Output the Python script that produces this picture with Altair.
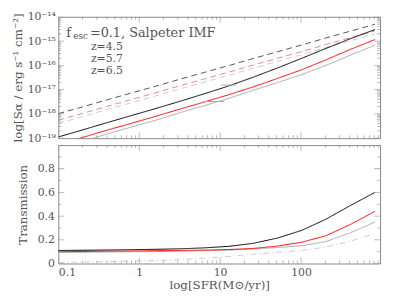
import altair as alt
import pandas as pd
import numpy as np

# ---------------- data ----------------
sfr = [0.1, 0.2, 0.4, 0.8, 1.6, 3.2, 6.4, 12.8, 25.6, 51.2, 102.4, 204.8, 409.6, 819.2]

# log10 of surface brightness (top panel)
dash_black = [-17.99, -17.71, -17.42, -17.14, -16.86, -16.57, -16.29, -16.01, -15.72, -15.44, -15.16, -14.87, -14.59, -14.31]
dash_red   = [-18.26, -17.98, -17.69, -17.41, -17.13, -16.84, -16.56, -16.28, -15.99, -15.71, -15.43, -15.14, -14.86, -14.58]
dash_gray  = [-18.39, -18.11, -17.82, -17.54, -17.26, -16.97, -16.69, -16.41, -16.12, -15.84, -15.56, -15.27, -14.99, -14.71]
solid_black = [-18.95, -18.66, -18.36, -18.07, -17.78, -17.48, -17.17, -16.85, -16.49, -16.11, -15.71, -15.30, -14.90, -14.53]
solid_red   = [-19.26, -18.97, -18.67, -18.39, -18.10, -17.80, -17.51, -17.21, -16.89, -16.54, -16.18, -15.77, -15.34, -14.94]
solid_gray  = [-19.42, -19.13, -18.83, -18.54, -18.26, -17.95, -17.66, -17.36, -17.03, -16.71, -16.38, -16.00, -15.58, -15.17]

# transmission (bottom panel)
t_black = [0.110, 0.112, 0.114, 0.117, 0.120, 0.124, 0.132, 0.145, 0.170, 0.215, 0.280, 0.375, 0.490, 0.600]
t_red   = [0.100, 0.102, 0.104, 0.106, 0.108, 0.110, 0.113, 0.118, 0.127, 0.147, 0.180, 0.235, 0.330, 0.440]
t_gray  = [0.093, 0.095, 0.097, 0.099, 0.101, 0.104, 0.108, 0.113, 0.122, 0.135, 0.150, 0.186, 0.260, 0.350]
t_dd    = [0.010, 0.013, 0.016, 0.020, 0.025, 0.032, 0.045, 0.060, 0.080, 0.095, 0.110, 0.140, 0.190, 0.250]

# short horizontal segments in top panel
seg_x1 = [10.3, 6.2]
seg_x2 = [15.8, 11.1]
seg_y = [-16.81, -17.49]

x_major = [0.1, 1, 10, 100]
y_top_major = [-19, -18, -17, -16, -15, -14]
y_bot_major = [0, 0.2, 0.4, 0.6, 0.8, 1.0]
y_bot_minor = [0.1, 0.3, 0.5, 0.7, 0.9]
z_labels = ["z=4.5", "z=5.7", "z=6.5"]

# ---------------- styling ----------------
W, H1, H2 = 326, 123, 120
FONT = "DejaVu Serif"
TXT = "#555555"
FRAME = "#888888"
XDOM = [0.1, 950]

series_all = ["db", "dr", "dg", "sb", "sr", "sg", "dd"]
colors_all = ["#555555", "#ff8080", "#cccccc", "#000000", "#ff0000", "#aaaaaa", "#cccccc"]
dash_all = [[6, 4], [6, 4], [6, 4], [1, 0], [1, 0], [1, 0], [6, 3, 1, 3]]
width_all = [1, 1, 1, 2, 2, 2, 1]

rows = []
for name, vals in zip(["db", "dr", "dg", "sb", "sr", "sg"],
                      [dash_black, dash_red, dash_gray, solid_black, solid_red, solid_gray]):
    for s, v in zip(sfr, vals):
        rows.append({"sfr": s, "v": v, "series": name})
df_top = pd.DataFrame(rows)

rows = []
for name, vals in zip(["dd", "sg", "sr", "sb"], [t_dd, t_gray, t_red, t_black]):
    for s, v in zip(sfr, vals):
        rows.append({"sfr": s, "v": v, "series": name})
df_bot = pd.DataFrame(rows)

df_seg = pd.DataFrame({"x1": seg_x1, "x2": seg_x2, "y": seg_y})

# tick positions (decoration)
x_minor = [k * 10.0 ** n for n in range(-1, 3) for k in range(2, 10) if k * 10.0 ** n <= XDOM[1]]
df_xt = pd.DataFrame({"t": x_major + x_minor, "len": [12] * len(x_major) + [6] * len(x_minor)})
y_top_minor = [n + np.log10(k) for n in range(-19, -14) for k in range(2, 10)]
df_yt_top = pd.DataFrame({"t": y_top_major + y_top_minor,
                          "len": [12] * len(y_top_major) + [6] * len(y_top_minor)})
df_yt_bot = pd.DataFrame({"t": y_bot_major + y_bot_minor,
                          "len": [12] * len(y_bot_major) + [6] * len(y_bot_minor)})

xscale = alt.Scale(type="log", domain=XDOM, nice=False)
cscale = alt.Scale(domain=series_all, range=colors_all)
dscale = alt.Scale(domain=series_all, range=dash_all)
wscale = alt.Scale(domain=series_all, range=width_all)

sup = {"-14": "⁻¹⁴", "-15": "⁻¹⁵", "-16": "⁻¹⁶", "-17": "⁻¹⁷", "-18": "⁻¹⁸", "-19": "⁻¹⁹"}
label_expr = " : ".join([f"datum.value == {k} ? '10{v}'" for k, v in sup.items()]) + " : ''"

ytop_scale = alt.Scale(domain=[-19, -14], nice=False)
ybot_scale = alt.Scale(domain=[0, 1], nice=False)

ax_x_top = alt.Axis(labels=False, ticks=False, domain=False, grid=False, title=None)
ax_x_bot = alt.Axis(values=x_major, format="~g", ticks=False, domain=False, grid=False,
                    labelOverlap=False, title="log[SFR(M⊙/yr)]", labelPadding=3, titlePadding=2)
ax_y_top = alt.Axis(values=y_top_major, labelExpr=label_expr, ticks=False, domain=False, grid=False,
                    labelOverlap=False, title="log[Sα / erg s⁻¹ cm⁻²]", titlePadding=3, labelPadding=3)
ax_y_bot = alt.Axis(values=[0, 0.2, 0.4, 0.6, 0.8], format="~g", ticks=False, domain=False, grid=False,
                    labelOverlap=False, title="Transmission", titlePadding=8, labelPadding=4)


def frame_ticks(yscale, df_y, height, ax_x, ax_y):
    kw = dict(color=FRAME, thickness=0.8, clip=True)
    sz = alt.Size("len:Q", scale=None, legend=None)
    xb = alt.Chart(df_xt).mark_tick(**kw).encode(
        x=alt.X("t:Q", scale=xscale, axis=ax_x), y=alt.value(height), size=sz)
    xt = alt.Chart(df_xt).mark_tick(**kw).encode(
        x=alt.X("t:Q", scale=xscale, axis=ax_x), y=alt.value(0), size=sz)
    yl = alt.Chart(df_y).mark_tick(**kw).encode(
        y=alt.Y("t:Q", scale=yscale, axis=ax_y), x=alt.value(0), size=sz)
    yr = alt.Chart(df_y).mark_tick(**kw).encode(
        y=alt.Y("t:Q", scale=yscale, axis=ax_y), x=alt.value(W), size=sz)
    return [xb, xt, yl, yr]


def style_enc():
    return dict(
        color=alt.Color("series:N", scale=cscale, legend=None),
        strokeDash=alt.StrokeDash("series:N", scale=dscale, legend=None),
        strokeWidth=alt.StrokeWidth("series:N", scale=wscale, legend=None),
        order=alt.Order("sfr:Q"),
    )


# ---------------- top panel ----------------
top_lines = alt.Chart(df_top).mark_line(clip=True).encode(
    x=alt.X("sfr:Q", scale=xscale, axis=ax_x_top),
    y=alt.Y("v:Q", scale=ytop_scale, axis=ax_y_top),
    **style_enc(),
)

segs = alt.Chart(df_seg).mark_rule(color="#aaaaaa", strokeWidth=1).encode(
    x=alt.X("x1:Q", scale=xscale, axis=ax_x_top), x2="x2:Q",
    y=alt.Y("y:Q", scale=ytop_scale, axis=ax_y_top))

one = pd.DataFrame({"a": [0]})


def label(text, x, y, size):
    return alt.Chart(one).mark_text(text=text, font=FONT, fontSize=size, color=TXT,
                                    align="left", baseline="alphabetic").encode(
        x=alt.value(x), y=alt.value(y))


texts = [label("f", 8, 20, 13), label("esc", 15, 23, 9), label("=0.1, Salpeter IMF", 32, 20, 13)]
texts += [label(z, 33, yy, 11) for z, yy in zip(z_labels, [34, 46, 58])]

top = alt.layer(top_lines, segs, *texts,
                *frame_ticks(ytop_scale, df_yt_top, H1, ax_x_top, ax_y_top)).properties(width=W, height=H1)

# ---------------- bottom panel ----------------
bot_lines = alt.Chart(df_bot).mark_line(clip=True).encode(
    x=alt.X("sfr:Q", scale=xscale, axis=ax_x_bot),
    y=alt.Y("v:Q", scale=ybot_scale, axis=ax_y_bot),
    **style_enc(),
)

bottom = alt.layer(bot_lines, *frame_ticks(ybot_scale, df_yt_bot, H2, ax_x_bot, ax_y_bot)).properties(
    width=W, height=H2)

chart = alt.vconcat(top, bottom, spacing=0).properties(
    padding={"left": 2, "right": 4, "top": 0, "bottom": 0}
).configure_view(
    stroke=FRAME, strokeWidth=1
).configure_axis(
    labelFont=FONT, titleFont=FONT, labelFontSize=11, titleFontSize=12,
    labelColor=TXT, titleColor=TXT, titleFontWeight="normal"
)

chart.save("out.html", embed_options={"renderer": "svg", "actions": False})
